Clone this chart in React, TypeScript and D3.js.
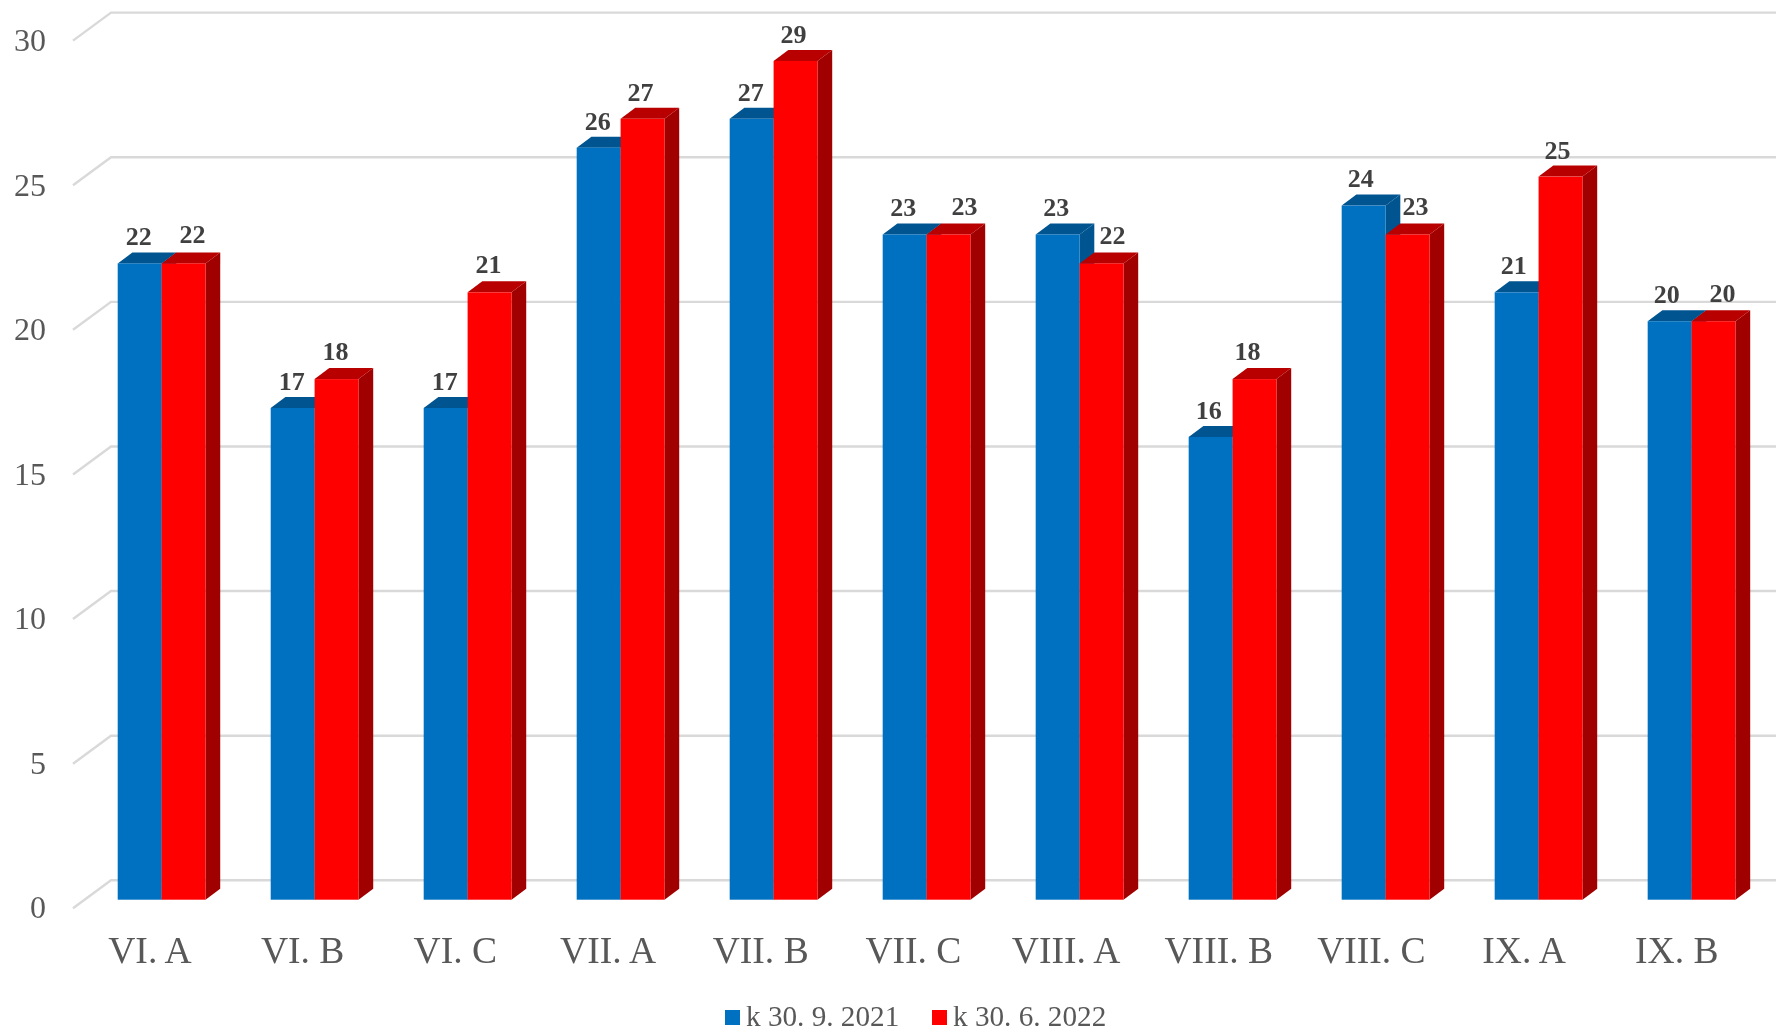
import React from "react";
import * as d3 from "d3";

const categories = ["VI. A", "VI. B", "VI. C", "VII. A", "VII. B", "VII. C", "VIII. A", "VIII. B", "VIII. C", "IX. A", "IX. B"];
const series2021 = [22, 17, 17, 26, 27, 23, 23, 16, 24, 21, 20];
const series2022 = [22, 18, 21, 27, 29, 23, 22, 18, 23, 25, 20];
const yTicks = [0, 5, 10, 15, 20, 25, 30];
const seriesNames = ["k 30. 9. 2021", "k 30. 6. 2022"];
const seriesValues = [series2021, series2022];
const palettes = [
  { front: "#0070C0", side: "#005590", top: "#005590" },
  { front: "#FF0000", side: "#A00000", top: "#B80000" },
];
// hand-placed data label nudges of the original chart (px from the bar centre)
const labelDx = [
  [-1, -1, -1, -1, -1, -1.5, -1.5, -2, -3, -3, -3],
  [9, -1, -1, -2, -2, 16, 11, -7, 8, -3, 9],
];
const labelDy = [
  [-18.5, -18, -18, -18, -18, -18, -18, -18, -19, -18, -18],
  [-20.5, -19.5, -19.5, -18, -18, -19.5, -19.5, -19.5, -19.5, -18, -19.5],
];

const W = 1776, H = 1032;
const FONT = "'Liberation Serif', serif";
const y = d3.scaleLinear().domain([0, 30]).range([899.7, 32]);
const xGroup = d3.scaleBand<string>().domain(categories).range([117.7, 1735.5]).paddingInner(0.426).paddingOuter(0);
const xSeries = d3.scaleBand<number>().domain([0, 1]).range([0, xGroup.bandwidth()]);
const xCategoryLabel = d3.scalePoint<string>().domain(categories).range([150, 1676.8]);
const depth = { dx: 14.7, dy: -11 };
const wall = { dx: 38, dy: -28 };

export default function App() {
  const bw = xSeries.bandwidth();
  return (
    <svg width={W} height={H} viewBox={`0 0 ${W} ${H}`} style={{ position: "fixed", left: 0, top: 0, display: "block", background: "#fff" }}>
      <defs>
        <filter id="soft" x="0" y="0" width="100%" height="100%" filterUnits="userSpaceOnUse" primitiveUnits="userSpaceOnUse">
          <feGaussianBlur stdDeviation="0.4" />
        </filter>
      </defs>
      <g filter="url(#soft)">
        <rect width={W} height={H} fill="#fff" />
        {yTicks.map((t) => {
          const py = y(t) + 8.3;
          return (
            <g key={t}>
              <polyline
                points={`${73},${py + 0.3} ${73 + wall.dx},${py + 0.3 + wall.dy} ${W},${py + 0.3 + wall.dy}`}
                fill="none" stroke="#D9D9D9" strokeWidth={2.4}
              />
              <text x={46} y={py + (t === 0 ? 10 : 10.7)} textAnchor="end" fontFamily={FONT} fontSize={32} fill="#595959">{t}</text>
            </g>
          );
        })}
        {categories.map((c, i) => {
          const gx = xGroup(c)!;
          return (
            <g key={c}>
              {seriesValues.map((vals, s) => {
                const x0 = gx + xSeries(s)!;
                const x1 = x0 + bw;
                const top = y(vals[i]);
                const bot = y(0);
                const p = palettes[s];
                return (
                  <g key={s}>
                    <polygon points={`${x1},${top} ${x1 + depth.dx},${top + depth.dy} ${x1 + depth.dx},${bot + depth.dy} ${x1},${bot}`} fill={p.side} />
                    <polygon points={`${x0},${top} ${x0 + depth.dx},${top + depth.dy} ${x1 + depth.dx},${top + depth.dy} ${x1},${top}`} fill={p.top} />
                    <rect x={x0} y={top} width={bw} height={bot - top} fill={p.front} />
                  </g>
                );
              })}
              {seriesValues.map((vals, s) => (
                <text key={s} x={gx + xSeries(s)! + bw / 2 + labelDx[s][i]} y={y(vals[i]) + labelDy[s][i]}
                  textAnchor="middle" fontFamily={FONT} fontSize={26} fontWeight="bold" fill="#404040">{vals[i]}</text>
              ))}
              <text x={xCategoryLabel(c)!} y={963} textAnchor="middle" fontFamily={FONT} fontSize={37.6} fill="#595959">{c}</text>
            </g>
          );
        })}
        {seriesNames.map((n, s) => {
          const mx = [725, 932][s];
          return (
            <g key={n}>
              <rect x={mx} y={1010} width={15} height={15} fill={palettes[s].front} />
              <text x={mx + 21} y={1026} fontFamily={FONT} fontSize={29.2} fill="#595959">{n}</text>
            </g>
          );
        })}
      </g>
    </svg>
  );
}
